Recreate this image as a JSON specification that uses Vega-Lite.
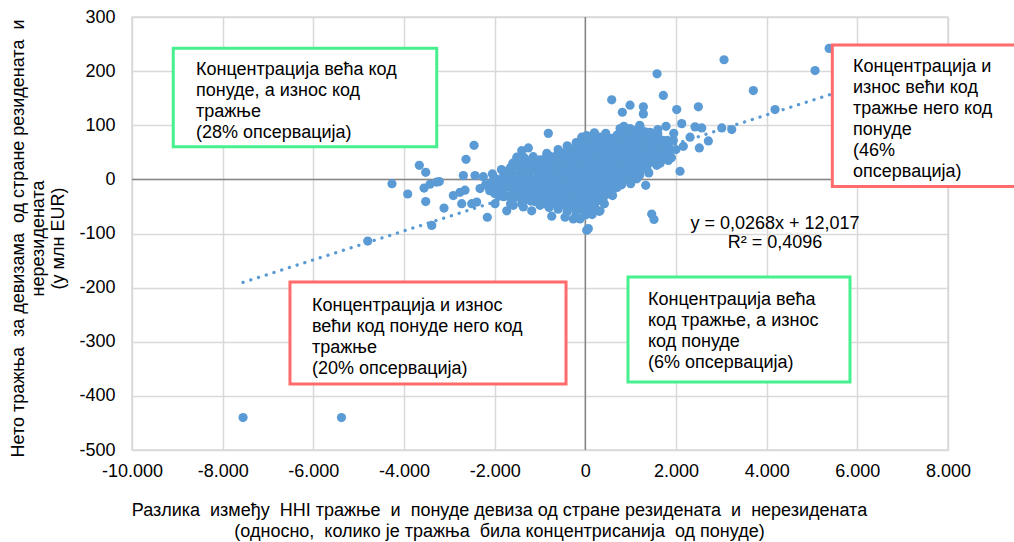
{
  "$schema": "https://vega.github.io/schema/vega-lite/v6.json",
  "width": 816,
  "height": 433,
  "autosize": {"type": "none"},
  "padding": {"left": 132, "top": 17, "right": 66, "bottom": 92},
  "background": "white",
  "config": {
    "font": "Liberation Sans",
    "view": {"stroke": "#d9d9d9", "strokeWidth": 1.5}
  },
  "datasets": {
    "pts": [
      {"x":-7550,"y":-440},{"x":-5380,"y":-440},{"x":-4800,"y":-114},{"x":-4265,"y":-8},{"x":-3918,"y":-27},{"x":-3662,"y":26},{"x":-3521,"y":13},{"x":-3521,"y":-41},{"x":-3558,"y":-16},{"x":-3426,"y":-9},{"x":-3279,"y":-5},{"x":-3221,"y":-4},{"x":-3117,"y":-53},{"x":-3388,"y":-85},{"x":-2912,"y":-30},{"x":-2765,"y":-24},{"x":-2654,"y":-20},{"x":-2727,"y":-45},{"x":-2506,"y":-45},{"x":-2632,"y":37},{"x":-2455,"y":63},{"x":-2691,"y":7},{"x":-2433,"y":7},{"x":-2323,"y":-17},{"x":-2162,"y":-70},{"x":-2396,"y":-42},{"x":-1992,"y":-45},{"x":-1734,"y":-58},{"x":-1588,"y":-48},{"x":-1513,"y":41},{"x":-1403,"y":53},{"x":-1257,"y":58},{"x":-1699,"y":16},{"x":-816,"y":85},{"x":-1368,"y":-51},{"x":-1183,"y":-58},{"x":-741,"y":-68},{"x":-448,"y":-70},{"x":-265,"y":-73},{"x":-117,"y":-73},{"x":31,"y":-94},{"x":324,"y":-58},{"x":-79,"y":78},{"x":31,"y":81},{"x":324,"y":78},{"x":582,"y":147},{"x":816,"y":124},{"x":986,"y":137},{"x":1280,"y":134},{"x":1280,"y":121},{"x":1721,"y":155},{"x":2016,"y":129},{"x":2493,"y":134},{"x":3706,"y":164},{"x":4185,"y":129},{"x":3009,"y":95},{"x":3230,"y":92},{"x":2714,"y":71},{"x":2515,"y":58},{"x":2162,"y":61},{"x":2310,"y":78},{"x":2420,"y":97},{"x":2568,"y":95},{"x":2089,"y":15},{"x":1780,"y":98},{"x":2126,"y":103},{"x":1831,"y":35},{"x":1575,"y":32},{"x":1354,"y":20},{"x":1464,"y":-64},{"x":1515,"y":-74},{"x":1332,"y":-11},{"x":1134,"y":1},{"x":1868,"y":53},{"x":1942,"y":72},{"x":766,"y":94},{"x":986,"y":94},{"x":1206,"y":97},{"x":1427,"y":87},{"x":66,"y":-91},{"x":1582,"y":195},{"x":3060,"y":221},{"x":5068,"y":201},{"x":5378,"y":242},{"x":5576,"y":211},{"x":1795,"y":38},{"x":1575,"y":26},{"x":309,"y":-59},
      {"x":-2200,"y":-10},{"x":-2250,"y":5},{"x":-2050,"y":10},{"x":-1850,"y":18},{"x":-1600,"y":30},{"x":-1650,"y":-45},{"x":-1400,"y":-45},{"x":-1000,"y":-48},{"x":-800,"y":-52},{"x":-600,"y":-55},{"x":-400,"y":-60},{"x":-200,"y":-62},{"x":0,"y":-66},{"x":150,"y":-65},{"x":200,"y":-50},{"x":420,"y":-45},{"x":600,"y":-30},{"x":800,"y":-10},{"x":1000,"y":-8},{"x":1200,"y":8},{"x":1400,"y":12},{"x":1650,"y":30},{"x":1900,"y":40},{"x":2000,"y":55},{"x":1950,"y":85},{"x":1600,"y":92},{"x":1200,"y":100},{"x":850,"y":98},{"x":450,"y":85},{"x":200,"y":86},{"x":-200,"y":68},{"x":-400,"y":62},{"x":-600,"y":55},{"x":-850,"y":48},{"x":-1150,"y":42},{"x":-1350,"y":40},{"x":-1650,"y":22},
      {"x":-2110,"y":-21},{"x":-2080,"y":-6},
      {"x":-1910,"y":-31},{"x":-1880,"y":-16},{"x":-1920,"y":-1},
      {"x":-1690,"y":-31},{"x":-1720,"y":-14},{"x":-1700,"y":1},{"x":-1680,"y":13},
      {"x":-1510,"y":-33},{"x":-1490,"y":-19},{"x":-1520,"y":-5},{"x":-1480,"y":9},{"x":-1500,"y":26},
      {"x":-1290,"y":-37},{"x":-1320,"y":-23},{"x":-1300,"y":-9},{"x":-1280,"y":6},{"x":-1310,"y":19},{"x":-1300,"y":33},
      {"x":-1110,"y":-41},{"x":-1090,"y":-27},{"x":-1120,"y":-12},{"x":-1080,"y":2},{"x":-1100,"y":17},{"x":-1110,"y":31},
      {"x":-890,"y":-45},{"x":-920,"y":-31},{"x":-900,"y":-17},{"x":-880,"y":-2},{"x":-910,"y":12},{"x":-900,"y":27},{"x":-890,"y":38},
      {"x":-710,"y":-45},{"x":-690,"y":-31},{"x":-720,"y":-16},{"x":-700,"y":-3},{"x":-680,"y":12},{"x":-710,"y":27},{"x":-700,"y":41},
      {"x":-490,"y":-47},{"x":-510,"y":-33},{"x":-500,"y":-18},{"x":-520,"y":-4},{"x":-480,"y":10},{"x":-500,"y":24},{"x":-510,"y":38},{"x":-490,"y":49},
      {"x":-300,"y":-51},{"x":-320,"y":-37},{"x":-290,"y":-22},{"x":-310,"y":-8},{"x":-300,"y":6},{"x":-280,"y":20},{"x":-310,"y":34},{"x":-300,"y":47},{"x":-290,"y":56},
      {"x":-100,"y":-54},{"x":-120,"y":-40},{"x":-90,"y":-26},{"x":-110,"y":-12},{"x":-100,"y":2},{"x":-80,"y":16},{"x":-110,"y":30},{"x":-100,"y":44},{"x":-90,"y":58},{"x":-110,"y":70},
      {"x":100,"y":-56},{"x":80,"y":-42},{"x":110,"y":-28},{"x":90,"y":-14},{"x":100,"y":0},{"x":120,"y":14},{"x":90,"y":28},{"x":100,"y":42},{"x":110,"y":56},{"x":90,"y":69},{"x":100,"y":77},
      {"x":300,"y":-39},{"x":280,"y":-24},{"x":310,"y":-10},{"x":290,"y":4},{"x":300,"y":18},{"x":320,"y":32},{"x":290,"y":46},{"x":300,"y":60},{"x":310,"y":74},
      {"x":500,"y":-27},{"x":520,"y":-12},{"x":490,"y":2},{"x":510,"y":16},{"x":500,"y":30},{"x":480,"y":44},{"x":510,"y":58},{"x":500,"y":72},
      {"x":700,"y":-15},{"x":680,"y":0},{"x":710,"y":14},{"x":690,"y":28},{"x":700,"y":42},{"x":720,"y":56},{"x":690,"y":70},{"x":700,"y":82},
      {"x":900,"y":2},{"x":880,"y":16},{"x":910,"y":30},{"x":890,"y":44},{"x":900,"y":58},{"x":920,"y":72},{"x":900,"y":86},
      {"x":1100,"y":6},{"x":1120,"y":20},{"x":1090,"y":34},{"x":1110,"y":48},{"x":1100,"y":62},{"x":1080,"y":76},{"x":1100,"y":90},
      {"x":1300,"y":22},{"x":1280,"y":36},{"x":1310,"y":50},{"x":1290,"y":64},{"x":1300,"y":78},{"x":1320,"y":88},
      {"x":1500,"y":42},{"x":1480,"y":56},{"x":1510,"y":70},{"x":1490,"y":84},
      {"x":1700,"y":44},{"x":1690,"y":58},{"x":1710,"y":72},
      {"x":1850,"y":48},{"x":1840,"y":60},
      {"x":-2000,"y":-26},{"x":-2010,"y":-12},{"x":-1990,"y":2},
      {"x":-1800,"y":-32},{"x":-1810,"y":-18},{"x":-1790,"y":-4},{"x":-1800,"y":8},
      {"x":-1600,"y":-33},{"x":-1610,"y":-19},{"x":-1590,"y":-5},{"x":-1600,"y":9},{"x":-1610,"y":20},
      {"x":-1400,"y":-36},{"x":-1410,"y":-22},{"x":-1390,"y":-8},{"x":-1400,"y":6},{"x":-1410,"y":20},{"x":-1390,"y":30},
      {"x":-1200,"y":-40},{"x":-1210,"y":-26},{"x":-1190,"y":-12},{"x":-1200,"y":2},{"x":-1210,"y":16},{"x":-1190,"y":28},{"x":-1200,"y":36},
      {"x":-1000,"y":-44},{"x":-1010,"y":-30},{"x":-990,"y":-16},{"x":-1000,"y":-2},{"x":-1010,"y":12},{"x":-990,"y":26},{"x":-1000,"y":36},
      {"x":-800,"y":-46},{"x":-810,"y":-32},{"x":-790,"y":-18},{"x":-800,"y":-4},{"x":-810,"y":10},{"x":-790,"y":24},{"x":-800,"y":36},{"x":-810,"y":44},
      {"x":-600,"y":-47},{"x":-610,"y":-33},{"x":-590,"y":-19},{"x":-600,"y":-5},{"x":-610,"y":9},{"x":-590,"y":23},{"x":-600,"y":37},{"x":-610,"y":47},
      {"x":-400,"y":-50},{"x":-410,"y":-36},{"x":-390,"y":-22},{"x":-400,"y":-8},{"x":-410,"y":6},{"x":-390,"y":20},{"x":-400,"y":34},{"x":-410,"y":48},{"x":-400,"y":54},
      {"x":-200,"y":-54},{"x":-210,"y":-40},{"x":-190,"y":-26},{"x":-200,"y":-12},{"x":-210,"y":2},{"x":-190,"y":16},{"x":-200,"y":30},{"x":-210,"y":44},{"x":-190,"y":58},{"x":-200,"y":66},
      {"x":0,"y":-58},{"x":-10,"y":-44},{"x":10,"y":-30},{"x":0,"y":-16},{"x":-10,"y":-2},{"x":10,"y":12},{"x":0,"y":26},{"x":-10,"y":40},{"x":10,"y":54},{"x":0,"y":66},{"x":0,"y":76},
      {"x":200,"y":-46},{"x":190,"y":-32},{"x":210,"y":-18},{"x":200,"y":-4},{"x":190,"y":10},{"x":210,"y":24},{"x":200,"y":38},{"x":190,"y":52},{"x":210,"y":66},{"x":200,"y":76},
      {"x":400,"y":-33},{"x":390,"y":-19},{"x":410,"y":-5},{"x":400,"y":9},{"x":390,"y":23},{"x":410,"y":37},{"x":400,"y":51},{"x":390,"y":65},{"x":400,"y":76},
      {"x":600,"y":-20},{"x":590,"y":-6},{"x":610,"y":8},{"x":600,"y":22},{"x":590,"y":36},{"x":610,"y":50},{"x":600,"y":64},{"x":590,"y":76},
      {"x":800,"y":-6},{"x":790,"y":8},{"x":810,"y":22},{"x":800,"y":36},{"x":790,"y":50},{"x":810,"y":64},{"x":800,"y":78},{"x":800,"y":88},
      {"x":1000,"y":4},{"x":990,"y":18},{"x":1010,"y":32},{"x":1000,"y":46},{"x":990,"y":60},{"x":1010,"y":74},{"x":1000,"y":88},
      {"x":1200,"y":14},{"x":1190,"y":28},{"x":1210,"y":42},{"x":1200,"y":56},{"x":1190,"y":70},{"x":1210,"y":84},
      {"x":1400,"y":30},{"x":1390,"y":44},{"x":1410,"y":58},{"x":1400,"y":72},{"x":1390,"y":86},
      {"x":1600,"y":42},{"x":1590,"y":56},{"x":1610,"y":70},{"x":1600,"y":84},
      {"x":1800,"y":46},{"x":1790,"y":60},{"x":1810,"y":72}
    ],
    "trend": [{"x": -7550, "y": -190.3}, {"x": 5400, "y": 156.7}],
    "zero": [
      {"x": 0, "y": -500, "g": "v"}, {"x": 0, "y": 300, "g": "v"},
      {"x": -10000, "y": 0, "g": "h"}, {"x": 8000, "y": 0, "g": "h"}
    ],
    "boxes": [
      {"x": -9090, "x2": -3278, "y": 242.2, "y2": 60.4, "k": "g"},
      {"x": 5448, "x2": 9588, "y": 248.3, "y2": -13.2, "k": "r"},
      {"x": -6515, "x2": -426, "y": -189.6, "y2": -378.1, "k": "r"},
      {"x": 941, "x2": 5838, "y": -180.4, "y2": -374.4, "k": "g"}
    ],
    "notes": [
      {"x": -8588, "y": 218.5, "t": "Концентрација  већа код\nпонуде, а износ код\nтражње\n(28% опсервација)"},
      {"x": 5905, "y": 224, "t": "Концентрација  и\nизнос  већи код\nтражње  него  код\nпонуде\n(46%\nопсервација)"},
      {"x": -6030, "y": -217.5, "t": "Концентрација  и износ\nвећи код понуде него код\nтражње\n(20% опсервација)"},
      {"x": 1382, "y": -206.4, "t": "Концентрација  већа\nкод тражње,  а износ\nкод понуде\n(6% опсервација)"}
    ],
    "eq": [{"x": 4183, "y": -66, "t": "y = 0,0268x + 12,017\nR² = 0,4096"}]
  },
  "encoding": {
    "x": {
      "field": "x", "type": "quantitative",
      "scale": {"domain": [-10000, 8000], "nice": false, "zero": false},
      "axis": {
        "values": [-10000, -8000, -6000, -4000, -2000, 0, 2000, 4000, 6000, 8000],
        "labelExpr": "(datum.value < 0 ? '-' : '') + replace(format(abs(datum.value), ','), ',', '.')",
        "grid": true, "gridColor": "#d9d9d9", "gridWidth": 1.5,
        "domain": false, "ticks": false, "tickSize": 0,
        "labelPadding": 12, "labelFontSize": 18, "labelColor": "#000",
        "labelFlush": false, "labelOverlap": false,
        "title": ["Разлика \u00a0између \u00a0HHI тражње \u00a0и \u00a0понуде девиза од стране резидената \u00a0и \u00a0нерезидената", "(односно, \u00a0колико је тражња \u00a0била концентрисанија \u00a0од понуде)"],
        "titleFontSize": 18, "titleFontWeight": "normal", "titleColor": "#000",
        "titleX": 367, "titleY": 51, "titleBaseline": "top", "titleAlign": "center",
        "titleLineHeight": 21
      }
    },
    "y": {
      "field": "y", "type": "quantitative",
      "scale": {"domain": [-500, 300], "nice": false, "zero": false},
      "axis": {
        "values": [-500, -400, -300, -200, -100, 0, 100, 200, 300],
        "labelExpr": "(datum.value < 0 ? '-' : '') + abs(datum.value)",
        "grid": true, "gridColor": "#d9d9d9", "gridWidth": 1.5,
        "domain": false, "ticks": false, "tickSize": 0,
        "labelPadding": 17, "labelFontSize": 18, "labelColor": "#000",
        "labelFlush": false, "labelOverlap": false,
        "title": ["Нето тражња \u00a0за девизама \u00a0од стране резидената \u00a0и", "нерезидената", "(у млн EUR)"],
        "titleFontSize": 18, "titleFontWeight": "normal", "titleColor": "#000",
        "titleAngle": -90, "titleX": -114, "titleY": 221, "titleBaseline": "middle",
        "titleAlign": "center", "titleLineHeight": 20
      }
    }
  },
  "layer": [
    {
      "data": {"name": "zero"},
      "mark": {"type": "line", "color": "#868686", "strokeWidth": 1.5},
      "encoding": {"detail": {"field": "g"}}
    },
    {
      "data": {"name": "pts"},
      "mark": {"type": "circle", "size": 85, "color": "#5b9bd5", "opacity": 1}
    },
    {
      "data": {"name": "trend"},
      "mark": {"type": "line", "color": "#5b9bd5", "strokeWidth": 3.3, "strokeDash": [0.1, 8], "strokeCap": "round"}
    },
    {
      "data": {"name": "boxes"},
      "mark": {"type": "rect", "fill": "white", "fillOpacity": 1, "strokeWidth": 3},
      "encoding": {
        "x2": {"field": "x2"},
        "y2": {"field": "y2"},
        "stroke": {"field": "k", "type": "nominal", "scale": {"domain": ["g", "r"], "range": ["#47f08e", "#ff6b6b"]}, "legend": null}
      }
    },
    {
      "data": {"name": "notes"},
      "mark": {"type": "text", "align": "left", "baseline": "top", "fontSize": 18, "lineHeight": 21, "lineBreak": "\n", "color": "#000"},
      "encoding": {"text": {"field": "t"}}
    },
    {
      "data": {"name": "eq"},
      "mark": {"type": "text", "align": "center", "baseline": "top", "fontSize": 18, "lineHeight": 19, "lineBreak": "\n", "color": "#000"},
      "encoding": {"text": {"field": "t"}}
    }
  ]
}
